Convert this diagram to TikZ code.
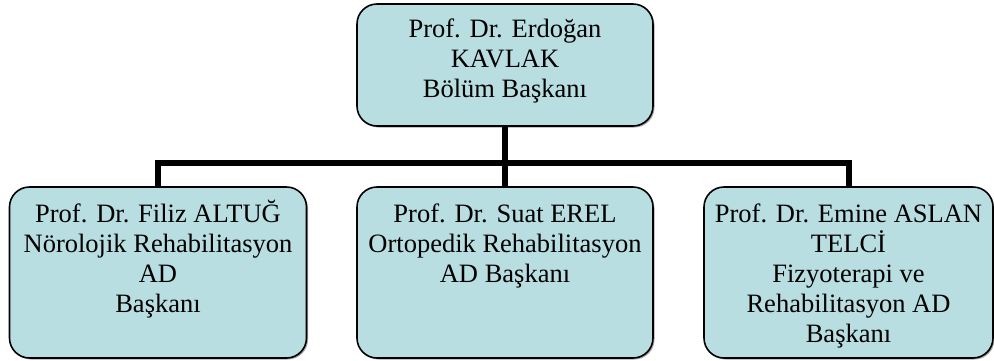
\documentclass[tikz,border=0pt]{standalone}
\usepackage{fontspec}
\setmainfont{Liberation Serif}
\usetikzlibrary{shadows}
\definecolor{boxfill}{RGB}{184,222,226}
\tikzset{
  orgbox/.style={draw=black, line width=1.6pt, fill=boxfill, rounded corners=20pt,
    inner sep=0pt, drop shadow={shadow xshift=1.5pt, shadow yshift=-1.5pt, fill=gray!70, opacity=1}},
  orgtext/.style={anchor=north, inner sep=0pt, align=center,
    font=\fontsize{26.5}{30}\selectfont},
  link/.style={line width=6pt, line join=miter, line cap=butt}
}
\newcommand{\firstline}{\rule{0pt}{25pt}}
\begin{document}
\begin{tikzpicture}[x=1pt,y=-1pt]
\useasboundingbox (0,0) rectangle (994,360);
% boxes
\node[orgbox, minimum width=296pt, minimum height=122pt] (top) at (505,65) {};
\node[orgbox, minimum width=297pt, minimum height=171pt] (L) at (158,272.5) {};
\node[orgbox, minimum width=296pt, minimum height=171pt] (M) at (505,272.5) {};
\node[orgbox, minimum width=289pt, minimum height=171pt] (R) at (848.5,272.5) {};
% connectors
\coordinate (hy) at (0,163);
\draw[link] (top.south) -- (top.south |- hy);
\draw[link] (L.north) -- (L.north |- hy) -- (R.north |- hy) -- (R.north);
\draw[link] (M.north |- hy) -- (M.north);
% texts
\node[orgtext] (ttop) at (505,12) {\firstline Prof. Dr. Erdoğan\\KAVLAK\\Bölüm Başkanı};
\node[orgtext] (tL) at (158,197) {\firstline Prof. Dr. Filiz ALTUĞ\\Nörolojik Rehabilitasyon\\AD\\Başkanı};
\node[orgtext] (tM) at (505,197) {\firstline Prof. Dr. Suat EREL\\Ortopedik Rehabilitasyon\\AD Başkanı};
\node[orgtext] (tR) at (848.5,197) {\firstline Prof. Dr. Emine ASLAN\\TELCİ\\Fizyoterapi ve\\Rehabilitasyon AD\\Başkanı};
\end{tikzpicture}
\end{document}
